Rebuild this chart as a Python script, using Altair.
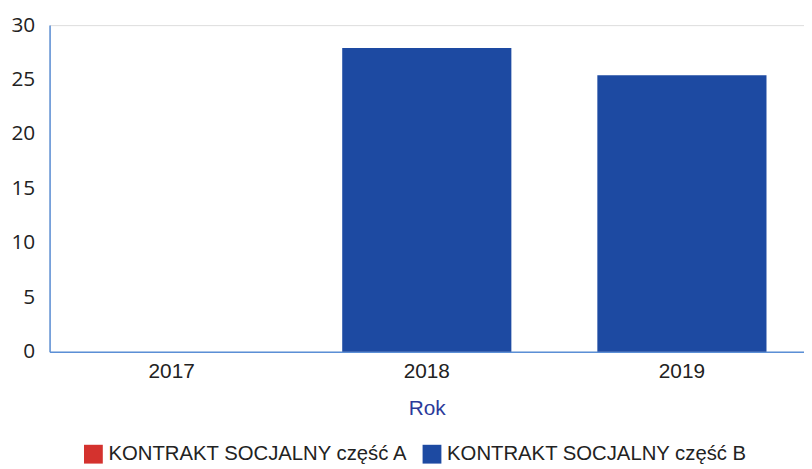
import altair as alt
import pandas as pd

years = ["2017", "2018", "2019"]
series = ["KONTRAKT SOCJALNY część A", "KONTRAKT SOCJALNY część B"]
part_a = [0, 0, 0]
part_b = [0, 27.9, 25.4]
colors = ["#d4322e", "#1d4aa2"]

rows = []
for i, y in enumerate(years):
    rows.append({"Rok": y, "seria": series[0], "wartosc": part_a[i], "ord": 0})
    rows.append({"Rok": y, "seria": series[1], "wartosc": part_b[i], "ord": 1})
df = pd.DataFrame(rows)

chart = alt.Chart(df).mark_bar().encode(
    x=alt.X("Rok:N", sort=years,
            scale=alt.Scale(paddingInner=0.337, paddingOuter=0.147),
            axis=alt.Axis(title="Rok", labelAngle=0, ticks=False, grid=False,
                          domainColor="#5b8fd6", domainWidth=1.5,
                          labelFont="Liberation Sans", labelFontSize=21,
                          labelColor="#222222", labelPadding=9,
                          titleFont="Liberation Sans", titleFontSize=21,
                          titleFontWeight="normal", titleColor="#2b3a9a",
                          titlePadding=16)),
    y=alt.Y("wartosc:Q", stack="zero",
            scale=alt.Scale(domain=[0, 30]),
            axis=alt.Axis(title=None, values=[0, 5, 10, 15, 20, 25, 30],
                          ticks=False, grid=False,
                          domainColor="#5b8fd6", domainWidth=1.5,
                          labelFont="Open Sans", labelFontSize=21,
                          labelColor="#222222", labelPadding=15)),
    color=alt.Color("seria:N", sort=series,
                    scale=alt.Scale(domain=series, range=colors),
                    legend=alt.Legend(title=None, orient="none",
                                      legendX=34, legendY=423,
                                      direction="horizontal",
                                      symbolType="square", symbolSize=361,
                                      symbolStrokeWidth=0,
                                      labelFont="Liberation Sans", labelFontSize=20.5,
                                      labelColor="#222222", labelLimit=400,
                                      columnPadding=13, symbolOffset=0,
                                      labelOffset=5)),
    order=alt.Order("ord:Q"),
).properties(
    width=762,
    height=330,
    padding={"left": 42, "top": 15, "right": 0, "bottom": 112},
    autosize=alt.AutoSizeParams(type="none"),
).configure_view(stroke=None).configure(background="white")

chart.save("out.html", embed_options={"renderer": "svg", "actions": False})
